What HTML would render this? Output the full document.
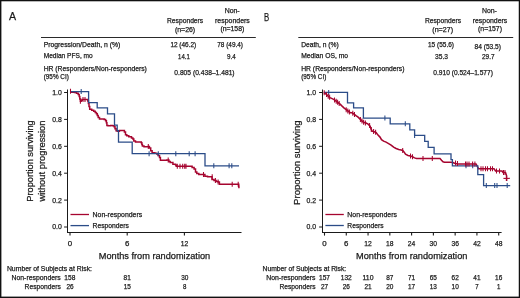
<!DOCTYPE html>
<html><head><meta charset="utf-8"><style>
html,body{margin:0;padding:0;background:#fff;}
svg{display:block;}
text{font-family:"Liberation Sans",sans-serif;stroke:#1a1a1a;stroke-width:0.25px;}
svg{will-change:transform;}
</style></head><body>
<svg width="520" height="298" viewBox="0 0 520 298">
<rect x="0" y="0" width="520" height="298" fill="#fff"/>
<rect x="0.7" y="0.6" width="518.75" height="296.7" fill="none" stroke="#111" stroke-width="1.4"/>
<text x="9.00" y="20.40" font-size="11" textLength="7.10" lengthAdjust="spacingAndGlyphs" fill="#1a1a1a" >A</text>
<text x="167.00" y="23.10" font-size="7.2" textLength="36.20" lengthAdjust="spacingAndGlyphs" fill="#1a1a1a" >Responders</text>
<text x="174.90" y="31.90" font-size="7.2" textLength="20.30" lengthAdjust="spacingAndGlyphs" fill="#1a1a1a" >(n=26)</text>
<text x="224.70" y="13.20" font-size="7.2" textLength="15.00" lengthAdjust="spacingAndGlyphs" fill="#1a1a1a" >Non-</text>
<text x="215.00" y="22.90" font-size="7.2" textLength="34.80" lengthAdjust="spacingAndGlyphs" fill="#1a1a1a" >responders</text>
<text x="220.40" y="31.00" font-size="7.2" textLength="23.90" lengthAdjust="spacingAndGlyphs" fill="#1a1a1a" >(n=158)</text>
<line x1="41" y1="37.5" x2="255.8" y2="37.5" stroke="#2a2a2a" stroke-width="1.1"/>
<text x="43.70" y="47.20" font-size="7.2" textLength="76.60" lengthAdjust="spacingAndGlyphs" fill="#1a1a1a" >Progression/Death, n (%)</text>
<text x="170.40" y="47.30" font-size="7.2" textLength="25.80" lengthAdjust="spacingAndGlyphs" fill="#1a1a1a" >12 (46.2)</text>
<text x="217.30" y="47.20" font-size="7.2" textLength="25.70" lengthAdjust="spacingAndGlyphs" fill="#1a1a1a" >78 (49.4)</text>
<text x="43.70" y="58.40" font-size="7.2" textLength="49.00" lengthAdjust="spacingAndGlyphs" fill="#1a1a1a" >Median PFS, mo</text>
<text x="178.10" y="58.50" font-size="7.2" textLength="11.70" lengthAdjust="spacingAndGlyphs" fill="#1a1a1a" >14.1</text>
<text x="227.00" y="58.50" font-size="7.2" textLength="8.70" lengthAdjust="spacingAndGlyphs" fill="#1a1a1a" >9.4</text>
<text x="43.70" y="70.80" font-size="7.2" textLength="103.20" lengthAdjust="spacingAndGlyphs" fill="#1a1a1a" >HR (Responders/Non-responders)</text>
<text x="43.70" y="79.40" font-size="7.2" textLength="25.10" lengthAdjust="spacingAndGlyphs" fill="#1a1a1a" >(95% CI)</text>
<text x="174.30" y="74.80" font-size="7.2" textLength="60.30" lengthAdjust="spacingAndGlyphs" fill="#1a1a1a" >0.805 (0.438&#8211;1.481)</text>
<text x="263.90" y="20.60" font-size="11" textLength="5.20" lengthAdjust="spacingAndGlyphs" fill="#1a1a1a" >B</text>
<text x="424.90" y="23.00" font-size="7.2" textLength="36.30" lengthAdjust="spacingAndGlyphs" fill="#1a1a1a" >Responders</text>
<text x="432.30" y="31.90" font-size="7.2" textLength="20.70" lengthAdjust="spacingAndGlyphs" fill="#1a1a1a" >(n=27)</text>
<text x="481.90" y="13.00" font-size="7.2" textLength="15.00" lengthAdjust="spacingAndGlyphs" fill="#1a1a1a" >Non-</text>
<text x="472.70" y="22.90" font-size="7.2" textLength="34.60" lengthAdjust="spacingAndGlyphs" fill="#1a1a1a" >responders</text>
<text x="478.00" y="31.00" font-size="7.2" textLength="24.00" lengthAdjust="spacingAndGlyphs" fill="#1a1a1a" >(n=157)</text>
<line x1="298.3" y1="37.5" x2="513.2" y2="37.5" stroke="#2a2a2a" stroke-width="1.1"/>
<text x="301.20" y="47.20" font-size="7.2" textLength="37.60" lengthAdjust="spacingAndGlyphs" fill="#1a1a1a" >Death, n (%)</text>
<text x="428.00" y="47.30" font-size="7.2" textLength="26.00" lengthAdjust="spacingAndGlyphs" fill="#1a1a1a" >15 (55.6)</text>
<text x="474.50" y="49.40" font-size="7.2" textLength="26.50" lengthAdjust="spacingAndGlyphs" fill="#1a1a1a" >84 (53.5)</text>
<text x="301.20" y="58.20" font-size="7.2" textLength="46.80" lengthAdjust="spacingAndGlyphs" fill="#1a1a1a" >Median OS, mo</text>
<text x="435.00" y="58.70" font-size="7.2" textLength="13.00" lengthAdjust="spacingAndGlyphs" fill="#1a1a1a" >35.3</text>
<text x="482.00" y="58.70" font-size="7.2" textLength="12.60" lengthAdjust="spacingAndGlyphs" fill="#1a1a1a" >29.7</text>
<text x="301.20" y="70.80" font-size="7.2" textLength="103.30" lengthAdjust="spacingAndGlyphs" fill="#1a1a1a" >HR (Responders/Non-responders)</text>
<text x="301.20" y="79.40" font-size="7.2" textLength="25.10" lengthAdjust="spacingAndGlyphs" fill="#1a1a1a" >(95% CI)</text>
<text x="433.30" y="74.80" font-size="7.2" textLength="59.60" lengthAdjust="spacingAndGlyphs" fill="#1a1a1a" >0.910 (0.524&#8211;1.577)</text>
<line x1="67.5" y1="89.5" x2="67.5" y2="232.9" stroke="#1a1a1a" stroke-width="1.05"/>
<line x1="67.0" y1="232.4" x2="241.5" y2="232.4" stroke="#1a1a1a" stroke-width="1.05"/>
<line x1="64.1" y1="227.0" x2="67.5" y2="227.0" stroke="#1a1a1a" stroke-width="1.0"/>
<text x="52.20" y="229.45" font-size="7.8" textLength="9.60" lengthAdjust="spacingAndGlyphs" fill="#1a1a1a" >0.0</text>
<line x1="64.1" y1="200.1" x2="67.5" y2="200.1" stroke="#1a1a1a" stroke-width="1.0"/>
<text x="52.20" y="202.55" font-size="7.8" textLength="9.60" lengthAdjust="spacingAndGlyphs" fill="#1a1a1a" >0.2</text>
<line x1="64.1" y1="173.2" x2="67.5" y2="173.2" stroke="#1a1a1a" stroke-width="1.0"/>
<text x="52.20" y="175.65" font-size="7.8" textLength="9.60" lengthAdjust="spacingAndGlyphs" fill="#1a1a1a" >0.4</text>
<line x1="64.1" y1="146.3" x2="67.5" y2="146.3" stroke="#1a1a1a" stroke-width="1.0"/>
<text x="52.20" y="148.75" font-size="7.8" textLength="9.60" lengthAdjust="spacingAndGlyphs" fill="#1a1a1a" >0.6</text>
<line x1="64.1" y1="119.39999999999999" x2="67.5" y2="119.39999999999999" stroke="#1a1a1a" stroke-width="1.0"/>
<text x="52.20" y="121.85" font-size="7.8" textLength="9.60" lengthAdjust="spacingAndGlyphs" fill="#1a1a1a" >0.8</text>
<line x1="64.1" y1="92.5" x2="67.5" y2="92.5" stroke="#1a1a1a" stroke-width="1.0"/>
<text x="52.20" y="94.95" font-size="7.8" textLength="9.60" lengthAdjust="spacingAndGlyphs" fill="#1a1a1a" >1.0</text>
<line x1="70.0" y1="232.4" x2="70.0" y2="235.6" stroke="#1a1a1a" stroke-width="1.1"/>
<text x="67.80" y="245.60" font-size="7.6" textLength="4.40" lengthAdjust="spacingAndGlyphs" fill="#1a1a1a" >0</text>
<line x1="127.20000000000002" y1="232.4" x2="127.20000000000002" y2="235.6" stroke="#1a1a1a" stroke-width="1.1"/>
<text x="125.00" y="245.60" font-size="7.6" textLength="4.40" lengthAdjust="spacingAndGlyphs" fill="#1a1a1a" >6</text>
<line x1="184.40000000000003" y1="232.4" x2="184.40000000000003" y2="235.6" stroke="#1a1a1a" stroke-width="1.1"/>
<text x="180.65" y="245.60" font-size="7.6" textLength="7.50" lengthAdjust="spacingAndGlyphs" fill="#1a1a1a" >12</text>
<line x1="70.5" y1="214.5" x2="89.0" y2="214.5" stroke="#a6052f" stroke-width="1.3"/>
<line x1="70.5" y1="225.6" x2="89.0" y2="225.6" stroke="#2b4c88" stroke-width="1.3"/>
<text x="92.60" y="217.00" font-size="7.2" textLength="49.60" lengthAdjust="spacingAndGlyphs" fill="#1a1a1a" >Non-responders</text>
<text x="92.60" y="227.80" font-size="7.2" textLength="36.40" lengthAdjust="spacingAndGlyphs" fill="#1a1a1a" >Responders</text>
<g transform="translate(33.2,161) rotate(-90)"><text x="-40.7" y="0" font-size="9.2" textLength="81.4" lengthAdjust="spacingAndGlyphs" fill="#1a1a1a">Proportion surviving</text></g>
<g transform="translate(45.4,161) rotate(-90)"><text x="-40.5" y="0" font-size="9.2" textLength="81" lengthAdjust="spacingAndGlyphs" fill="#1a1a1a">without progression</text></g>
<text x="98.80" y="258.80" font-size="9.2" textLength="111.40" lengthAdjust="spacingAndGlyphs" fill="#1a1a1a" >Months from randomization</text>
<path d="M70.50,92.20 H74.50 V92.40 H76.50 V93.30 H78.20 V94.60 H79.20 V96.50 H79.80 V99.00 H80.40 V101.30 H81.20 V100.20 H82.20 V99.60 H86.80 V99.60 H87.80 V101.00 H88.40 V103.50 H89.00 V106.50 H89.70 V109.20 H91.70 V110.20 H93.70 V111.20 H95.20 V112.50 H96.40 V113.80 H97.30 V115.60 H98.20 V117.50 H99.50 V118.90 H102.20 V118.90 H104.20 V119.60 H105.60 V120.80 H106.40 V122.80 H106.90 V125.40 H108.00 V125.80 H110.70 V125.40 H112.70 V125.80 H114.10 V126.80 H115.00 V128.80 H116.10 V130.80 H117.40 V131.20 H119.40 V130.40 H123.50 V130.40 H124.40 V132.10 H125.50 V134.80 H126.80 V135.80 H128.80 V136.80 H131.50 V137.90 H132.90 V138.90 H133.80 V141.10 H135.50 V141.90 H140.20 V141.90 H141.30 V142.70 H141.85 V144.40 H142.40 V146.10 H144.00 V146.70 H146.70 V146.70 H148.30 V146.60 H149.40 V148.10 H150.70 V150.80 H152.10 V152.80 H154.80 V153.20 H156.80 V154.10 H158.10 V155.50 H159.50 V157.50 H160.40 V160.20 H162.10 V160.20 H166.80 V159.90 H168.20 V159.90 H168.90 V161.50 H170.20 V162.60 H172.90 V164.20 H175.60 V164.90 H176.20 V166.30 H190.80 V166.30 H192.10 V167.40 H194.10 V169.10 H195.50 V172.10 H196.80 V173.50 H198.80 V174.40 H202.80 V174.40 H204.90 V176.20 H207.50 V176.80 H211.40 V176.80 H212.00 V179.50 H214.00 V180.40 H215.40 V180.40 H216.10 V181.50 H218.10 V182.10 H219.40 V184.20 H238.60 V184.20 H238.75 V186.20 H238.90 V188.20" fill="none" stroke="#a6052f" stroke-width="1.5" stroke-linejoin="miter"/>
<path d="M70,91.6 H88.6 V102.7 H97.2 V107.8 H107.5 V113.9 H114.5 V125.1 H117.2 V130.6 H118.5 V142.2 H132.2 V153.7 H205.0 V165.8 H239.0" fill="none" stroke="#2b4c88" stroke-width="1.3"/>
<path d="M81.20,89.10v5.00 M149.10,151.20v5.00 M158.30,151.20v5.00 M175.80,151.20v5.00 M189.20,151.20v5.00 M195.10,151.20v5.00 M213.80,163.30v5.00 M229.10,163.30v5.00 M231.80,163.30v5.00" fill="none" stroke="#2b4c88" stroke-width="1.05"/>
<path d="M70.50,88.80v5.00 M80.40,98.80v5.00 M83.00,97.10v5.00 M85.00,97.10v5.00 M148.30,144.10v5.00 M168.20,157.40v5.00 M177.30,163.80v5.00 M180.00,163.80v5.00 M182.70,163.80v5.00 M184.70,163.80v5.00 M186.00,163.80v5.00 M203.50,171.90v5.00 M212.20,174.30v5.00 M215.40,177.90v5.00 M218.10,179.60v5.00 M232.20,181.70v5.00 M238.20,181.70v5.00" fill="none" stroke="#a6052f" stroke-width="1.05"/>
<line x1="322.5" y1="89.5" x2="322.5" y2="232.9" stroke="#1a1a1a" stroke-width="1.05"/>
<line x1="322.0" y1="232.4" x2="501.6" y2="232.4" stroke="#1a1a1a" stroke-width="1.05"/>
<line x1="319.1" y1="227.0" x2="322.5" y2="227.0" stroke="#1a1a1a" stroke-width="1.0"/>
<text x="306.50" y="229.45" font-size="7.8" textLength="9.60" lengthAdjust="spacingAndGlyphs" fill="#1a1a1a" >0.0</text>
<line x1="319.1" y1="200.1" x2="322.5" y2="200.1" stroke="#1a1a1a" stroke-width="1.0"/>
<text x="306.50" y="202.55" font-size="7.8" textLength="9.60" lengthAdjust="spacingAndGlyphs" fill="#1a1a1a" >0.2</text>
<line x1="319.1" y1="173.2" x2="322.5" y2="173.2" stroke="#1a1a1a" stroke-width="1.0"/>
<text x="306.50" y="175.65" font-size="7.8" textLength="9.60" lengthAdjust="spacingAndGlyphs" fill="#1a1a1a" >0.4</text>
<line x1="319.1" y1="146.3" x2="322.5" y2="146.3" stroke="#1a1a1a" stroke-width="1.0"/>
<text x="306.50" y="148.75" font-size="7.8" textLength="9.60" lengthAdjust="spacingAndGlyphs" fill="#1a1a1a" >0.6</text>
<line x1="319.1" y1="119.39999999999999" x2="322.5" y2="119.39999999999999" stroke="#1a1a1a" stroke-width="1.0"/>
<text x="306.50" y="121.85" font-size="7.8" textLength="9.60" lengthAdjust="spacingAndGlyphs" fill="#1a1a1a" >0.8</text>
<line x1="319.1" y1="92.5" x2="322.5" y2="92.5" stroke="#1a1a1a" stroke-width="1.0"/>
<text x="306.50" y="94.95" font-size="7.8" textLength="9.60" lengthAdjust="spacingAndGlyphs" fill="#1a1a1a" >1.0</text>
<line x1="324.5" y1="232.4" x2="324.5" y2="235.6" stroke="#1a1a1a" stroke-width="1.1"/>
<text x="322.30" y="245.60" font-size="7.6" textLength="4.40" lengthAdjust="spacingAndGlyphs" fill="#1a1a1a" >0</text>
<line x1="346.275" y1="232.4" x2="346.275" y2="235.6" stroke="#1a1a1a" stroke-width="1.1"/>
<text x="344.07" y="245.60" font-size="7.6" textLength="4.40" lengthAdjust="spacingAndGlyphs" fill="#1a1a1a" >6</text>
<line x1="368.05" y1="232.4" x2="368.05" y2="235.6" stroke="#1a1a1a" stroke-width="1.1"/>
<text x="364.30" y="245.60" font-size="7.6" textLength="7.50" lengthAdjust="spacingAndGlyphs" fill="#1a1a1a" >12</text>
<line x1="389.825" y1="232.4" x2="389.825" y2="235.6" stroke="#1a1a1a" stroke-width="1.1"/>
<text x="386.07" y="245.60" font-size="7.6" textLength="7.50" lengthAdjust="spacingAndGlyphs" fill="#1a1a1a" >18</text>
<line x1="411.59999999999997" y1="232.4" x2="411.59999999999997" y2="235.6" stroke="#1a1a1a" stroke-width="1.1"/>
<text x="407.85" y="245.60" font-size="7.6" textLength="7.50" lengthAdjust="spacingAndGlyphs" fill="#1a1a1a" >24</text>
<line x1="433.375" y1="232.4" x2="433.375" y2="235.6" stroke="#1a1a1a" stroke-width="1.1"/>
<text x="429.62" y="245.60" font-size="7.6" textLength="7.50" lengthAdjust="spacingAndGlyphs" fill="#1a1a1a" >30</text>
<line x1="455.15" y1="232.4" x2="455.15" y2="235.6" stroke="#1a1a1a" stroke-width="1.1"/>
<text x="451.40" y="245.60" font-size="7.6" textLength="7.50" lengthAdjust="spacingAndGlyphs" fill="#1a1a1a" >36</text>
<line x1="476.92499999999995" y1="232.4" x2="476.92499999999995" y2="235.6" stroke="#1a1a1a" stroke-width="1.1"/>
<text x="473.17" y="245.60" font-size="7.6" textLength="7.50" lengthAdjust="spacingAndGlyphs" fill="#1a1a1a" >42</text>
<line x1="498.69999999999993" y1="232.4" x2="498.69999999999993" y2="235.6" stroke="#1a1a1a" stroke-width="1.1"/>
<text x="494.95" y="245.60" font-size="7.6" textLength="7.50" lengthAdjust="spacingAndGlyphs" fill="#1a1a1a" >48</text>
<line x1="325.4" y1="214.5" x2="343.8" y2="214.5" stroke="#a6052f" stroke-width="1.3"/>
<line x1="325.4" y1="225.5" x2="343.8" y2="225.5" stroke="#2b4c88" stroke-width="1.3"/>
<text x="347.30" y="217.00" font-size="7.2" textLength="49.60" lengthAdjust="spacingAndGlyphs" fill="#1a1a1a" >Non-responders</text>
<text x="347.30" y="227.80" font-size="7.2" textLength="36.20" lengthAdjust="spacingAndGlyphs" fill="#1a1a1a" >Responders</text>
<g transform="translate(300.4,162.7) rotate(-90)"><text x="-42.2" y="0" font-size="9.2" textLength="84.4" lengthAdjust="spacingAndGlyphs" fill="#1a1a1a">Proportion surviving</text></g>
<text x="356.00" y="258.80" font-size="9.2" textLength="111.40" lengthAdjust="spacingAndGlyphs" fill="#1a1a1a" >Months from randomization</text>
<polyline points="323.80,92.40 326.00,94.00 328.00,96.00 330.00,97.60 332.10,98.60 334.10,99.60 336.10,101.10 338.10,102.60 340.10,104.10 342.10,106.10 344.20,108.10 346.20,109.70 348.20,111.20 350.20,112.70 352.00,112.80 354.00,114.10 356.00,115.60 358.10,117.10 360.10,119.10 362.10,121.10 364.10,122.60 366.10,123.10 368.10,124.10 370.10,126.10 371.10,129.20 372.20,131.20 374.20,131.70 376.20,132.60 378.00,135.10 380.00,137.10 381.50,139.60 383.60,141.10 386.10,142.10 388.60,143.60 391.10,145.10 393.60,147.20 396.10,148.50 398.70,149.50 401.20,150.00 402.70,150.50 404.20,152.20 405.50,154.20 408.00,155.40 410.50,155.90 412.50,156.80 414.50,157.90 416.50,158.50 440.00,158.50 441.50,160.20 443.00,161.80 444.50,162.20 450.90,162.20 452.90,162.50 454.50,163.30 457.60,163.90 476.00,163.90 478.50,168.70 494.00,168.70 495.50,171.00 502.00,171.00 503.00,172.50 505.50,172.50 506.60,175.80 506.60,181.00" fill="none" stroke="#a6052f" stroke-width="1.55" stroke-linejoin="miter"/>
<path d="M324,92.4 H347.5 V102.8 H353.6 V107.9 H363.4 V118.1 H390.2 V123.8 H409.8 V129.8 H414.6 V135.4 H424.7 V141.4 H428.2 V147.4 H434.1 V153.9 H451.0 V159.6 H452.4 V165.8 H477.8 V174.7 H483.6 V185.6 H510.2" fill="none" stroke="#2b4c88" stroke-width="1.3"/>
<path d="M328.70,89.90v5.00 M384.90,115.60v5.00 M405.30,121.30v5.00 M414.60,132.90v5.00 M466.00,163.30v5.00 M472.70,163.30v5.00 M486.30,183.10v5.00 M494.70,183.10v5.00 M497.00,183.10v5.00 M507.20,183.10v5.00" fill="none" stroke="#2b4c88" stroke-width="1.05"/>
<path d="M324.20,90.19v5.00 M326.50,92.00v5.00 M328.20,93.66v5.00 M329.60,94.78v5.00 M334.50,97.40v5.00 M336.20,98.67v5.00 M337.60,99.72v5.00 M339.20,100.92v5.00 M346.20,107.20v5.00 M347.80,108.40v5.00 M349.40,109.60v5.00 M352.80,110.82v5.00 M354.50,111.97v5.00 M360.40,116.90v5.00 M362.00,118.50v5.00 M363.60,119.72v5.00 M365.40,120.42v5.00 M369.60,123.10v5.00 M371.30,127.06v5.00 M373.60,129.05v5.00 M375.60,129.83v5.00 M402.70,148.00v5.00 M410.50,153.40v5.00 M412.50,154.30v5.00 M423.00,156.00v5.00 M432.30,156.00v5.00 M455.50,160.50v5.00 M457.50,161.10v5.00 M465.50,161.40v5.00 M467.00,161.40v5.00 M469.00,161.40v5.00 M472.60,161.40v5.00 M474.90,161.40v5.00 M481.00,166.20v5.00 M483.00,166.20v5.00 M485.50,166.20v5.00 M487.50,166.20v5.00 M490.50,166.20v5.00 M492.50,166.20v5.00 M496.50,168.50v5.00 M499.50,168.50v5.00 M503.50,170.00v5.00 M505.00,170.00v5.00" fill="none" stroke="#a6052f" stroke-width="1.05"/>
<line x1="503.4" y1="178.4" x2="509.8" y2="178.4" stroke="#a6052f" stroke-width="1.1"/>
<text x="6.90" y="270.50" font-size="7.2" textLength="85.10" lengthAdjust="spacingAndGlyphs" fill="#1a1a1a" >Number of Subjects at Risk:</text>
<text x="11.50" y="280.30" font-size="7.2" textLength="49.30" lengthAdjust="spacingAndGlyphs" fill="#1a1a1a" >Non-responders</text>
<text x="24.60" y="289.00" font-size="7.2" textLength="36.20" lengthAdjust="spacingAndGlyphs" fill="#1a1a1a" >Responders</text>
<text x="64.35" y="280.30" font-size="7.2" textLength="11.00" lengthAdjust="spacingAndGlyphs" fill="#1a1a1a" >158</text>
<text x="123.60" y="280.30" font-size="7.2" textLength="7.20" lengthAdjust="spacingAndGlyphs" fill="#1a1a1a" >81</text>
<text x="181.20" y="280.30" font-size="7.2" textLength="7.20" lengthAdjust="spacingAndGlyphs" fill="#1a1a1a" >30</text>
<text x="66.40" y="289.10" font-size="7.2" textLength="7.20" lengthAdjust="spacingAndGlyphs" fill="#1a1a1a" >26</text>
<text x="123.70" y="289.10" font-size="7.2" textLength="7.20" lengthAdjust="spacingAndGlyphs" fill="#1a1a1a" >15</text>
<text x="183.00" y="289.10" font-size="7.2" textLength="3.40" lengthAdjust="spacingAndGlyphs" fill="#1a1a1a" >8</text>
<text x="262.50" y="270.50" font-size="7.2" textLength="83.75" lengthAdjust="spacingAndGlyphs" fill="#1a1a1a" >Number of Subjects at Risk:</text>
<text x="266.25" y="280.40" font-size="7.2" textLength="49.25" lengthAdjust="spacingAndGlyphs" fill="#1a1a1a" >Non-responders</text>
<text x="279.50" y="289.00" font-size="7.2" textLength="36.00" lengthAdjust="spacingAndGlyphs" fill="#1a1a1a" >Responders</text>
<text x="319.00" y="280.40" font-size="7.2" textLength="11.00" lengthAdjust="spacingAndGlyphs" fill="#1a1a1a" >157</text>
<text x="340.77" y="280.40" font-size="7.2" textLength="11.00" lengthAdjust="spacingAndGlyphs" fill="#1a1a1a" >132</text>
<text x="362.55" y="280.40" font-size="7.2" textLength="11.00" lengthAdjust="spacingAndGlyphs" fill="#1a1a1a" >110</text>
<text x="386.22" y="280.40" font-size="7.2" textLength="7.20" lengthAdjust="spacingAndGlyphs" fill="#1a1a1a" >87</text>
<text x="408.00" y="280.40" font-size="7.2" textLength="7.20" lengthAdjust="spacingAndGlyphs" fill="#1a1a1a" >71</text>
<text x="429.77" y="280.40" font-size="7.2" textLength="7.20" lengthAdjust="spacingAndGlyphs" fill="#1a1a1a" >65</text>
<text x="451.55" y="280.40" font-size="7.2" textLength="7.20" lengthAdjust="spacingAndGlyphs" fill="#1a1a1a" >62</text>
<text x="473.32" y="280.40" font-size="7.2" textLength="7.20" lengthAdjust="spacingAndGlyphs" fill="#1a1a1a" >41</text>
<text x="495.10" y="280.40" font-size="7.2" textLength="7.20" lengthAdjust="spacingAndGlyphs" fill="#1a1a1a" >16</text>
<text x="320.90" y="289.10" font-size="7.2" textLength="7.20" lengthAdjust="spacingAndGlyphs" fill="#1a1a1a" >27</text>
<text x="342.67" y="289.10" font-size="7.2" textLength="7.20" lengthAdjust="spacingAndGlyphs" fill="#1a1a1a" >26</text>
<text x="364.45" y="289.10" font-size="7.2" textLength="7.20" lengthAdjust="spacingAndGlyphs" fill="#1a1a1a" >21</text>
<text x="386.22" y="289.10" font-size="7.2" textLength="7.20" lengthAdjust="spacingAndGlyphs" fill="#1a1a1a" >20</text>
<text x="408.00" y="289.10" font-size="7.2" textLength="7.20" lengthAdjust="spacingAndGlyphs" fill="#1a1a1a" >17</text>
<text x="429.77" y="289.10" font-size="7.2" textLength="7.20" lengthAdjust="spacingAndGlyphs" fill="#1a1a1a" >13</text>
<text x="451.55" y="289.10" font-size="7.2" textLength="7.20" lengthAdjust="spacingAndGlyphs" fill="#1a1a1a" >10</text>
<text x="475.22" y="289.10" font-size="7.2" textLength="3.40" lengthAdjust="spacingAndGlyphs" fill="#1a1a1a" >7</text>
<text x="497.00" y="289.10" font-size="7.2" textLength="3.40" lengthAdjust="spacingAndGlyphs" fill="#1a1a1a" >1</text>
</svg>
</body></html>
